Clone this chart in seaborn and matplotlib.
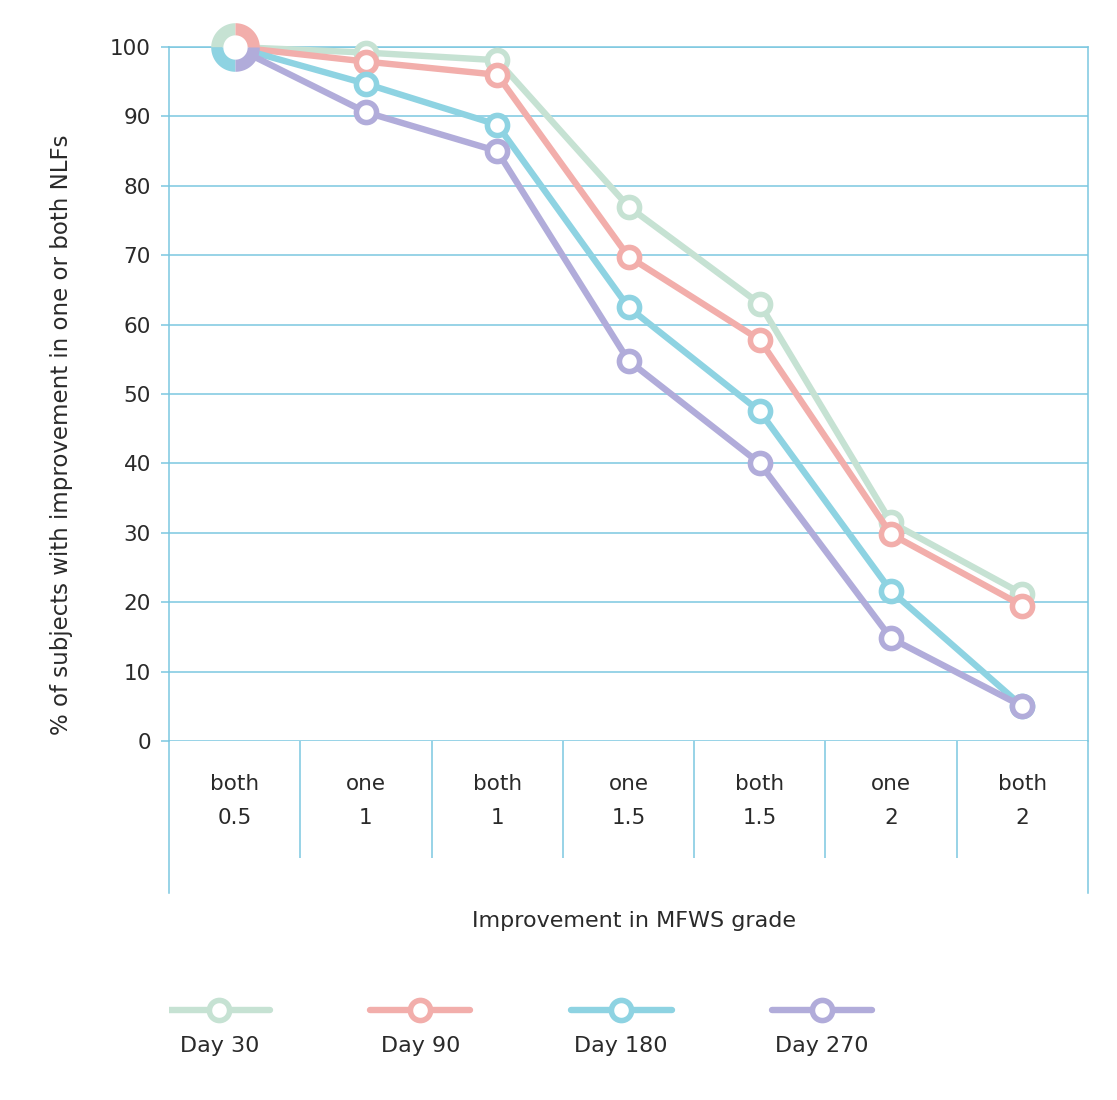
import numpy as np
import pandas as pd
import matplotlib
matplotlib.use("Agg")
import matplotlib.pyplot as plt
from matplotlib.path import Path
import seaborn as sns

# category labels (two lines each)
cat_kind = ["both", "one", "both", "one", "both", "one", "both"]
cat_grade = ["0.5", "1", "1", "1.5", "1.5", "2", "2"]

series_names = ["Day 30", "Day 90", "Day 180", "Day 270"]
day30 = [100, 99.2, 98.1, 77.0, 63.0, 31.5, 21.2]
day90 = [100, 97.9, 96.0, 69.8, 57.8, 29.8, 19.5]
day180 = [100, 94.7, 88.8, 62.5, 47.5, 21.6, 5.0]
day270 = [100, 90.6, 85.0, 54.8, 40.0, 14.8, 5.0]

colors = ["#c6e2d3", "#f2aeab", "#8ed3e2", "#b1acda"]
grid_col = "#7cc8e0"
text_col = "#2a2a2a"

sns.set_theme(style="white")
plt.rcParams["font.family"] = ["DejaVu Sans"]

pos = np.arange(len(cat_kind))
df = pd.DataFrame({
    "pos": np.tile(pos, 4),
    "pct": day30 + day90 + day180 + day270,
    "day": np.repeat(series_names, len(pos)),
})

fig = plt.figure(figsize=(11.17, 11), dpi=100)
W, H = 1117, 1100
x0, x1, ytop, ybot = 169, 1088, 47, 741
ax = fig.add_axes([x0 / W, 1 - ybot / H, (x1 - x0) / W, (ybot - ytop) / H])

LW, MS, MEW = 4.6, 14.5, 4.0
for name, c in zip(series_names, colors):
    sub = df[df["day"] == name]
    sns.lineplot(data=sub, x="pos", y="pct", color=c, lw=LW, marker="o", ms=MS,
                 mfc="white", mec=c, mew=MEW, markevery=list(range(1, len(pos))),
                 clip_on=False, ax=ax, zorder=3)

# special donut marker for the shared first point


def quarter_ring(t1, t2, inner=0.5):
    a = np.radians(np.linspace(t1, t2, 40))
    outer = np.column_stack([np.cos(a), np.sin(a)])
    inn = outer[::-1] * inner
    verts = np.vstack([outer, inn, outer[:1]])
    codes = [Path.MOVETO] + [Path.LINETO] * (len(verts) - 2) + [Path.CLOSEPOLY]
    return Path(verts, codes)


quads = [(90, 180), (0, 90), (180, 270), (270, 360)]
first = df[df["pos"] == 0]
ax.plot(first["pos"].iloc[0], first["pct"].iloc[0], marker="o", ms=18, mfc="white",
        mec="white", clip_on=False, zorder=5)
for (t1, t2), c, (_, row) in zip(quads, colors, first.iterrows()):
    ax.plot(row["pos"], row["pct"], marker=quarter_ring(t1, t2), ms=35, color=c,
            mec="none", clip_on=False, zorder=6)

ax.set_xlim(-0.5, len(pos) - 0.5)
ax.set_ylim(0, 100)
ax.set_yticks(np.arange(0, 101, 10))
ax.set_xticks([])
ax.set_xlabel("")
ax.grid(axis="y", color=grid_col, lw=1.1)
ax.set_axisbelow(True)
ax.tick_params(axis="y", length=6, width=1.1, color=grid_col, labelsize=15.5,
               labelcolor=text_col, pad=7, left=True)
ax.spines["bottom"].set_visible(False)
for s in ["left", "right", "top"]:
    ax.spines[s].set_visible(True)
    ax.spines[s].set_color(grid_col)
    ax.spines[s].set_linewidth(1.1)
ax.set_ylabel("% of subjects with improvement in one or both NLFs", fontsize=16.5,
              color=text_col)
ax.yaxis.set_label_coords(-0.104, 0.441)

# category table below the plot
tb_bot = 893
tax = fig.add_axes([x0 / W, 1 - tb_bot / H, (x1 - x0) / W, (tb_bot - ybot) / H])
tax.set_xlim(-0.5, len(pos) - 0.5)
tax.set_ylim(0, 1)
tax.set_xticks([])
tax.set_yticks([])
tax.set_facecolor("none")
for s in ["top", "bottom"]:
    tax.spines[s].set_visible(False)
for s in ["left", "right"]:
    tax.spines[s].set_color(grid_col)
    tax.spines[s].set_linewidth(1.1)
tax.vlines(pos[:-1] + 0.5, 0.23, 1, color=grid_col, lw=1.1)
for p, k, g in zip(pos, cat_kind, cat_grade):
    tax.text(p, 0.717, k, ha="center", va="center", fontsize=15.5, color=text_col)
    tax.text(p, 0.493, g, ha="center", va="center", fontsize=15.5, color=text_col)

fig.text(634 / W, 1 - 921 / H, "Improvement in MFWS grade", ha="center", va="center",
         fontsize=16, color=text_col)

# legend row
lx0, slot = 169, 201
lax = fig.add_axes([lx0 / W, 1 - 1070 / H, 4 * slot / W, 80 / H])
lax.set_xlim(0, 4)
lax.set_ylim(0, 1)
lax.axis("off")
for i, (name, c) in enumerate(zip(series_names, colors)):
    lax.plot([i, i + 0.25, i + 0.5], [0.75] * 3, color=c, lw=LW, marker="o", ms=MS,
             mfc="white", mec=c, mew=MEW, markevery=[1])
    lax.text(i + 0.25, 0.3, name, ha="center", va="center", fontsize=16,
             color=text_col)

fig.savefig("out.png", dpi=100, facecolor="white")
